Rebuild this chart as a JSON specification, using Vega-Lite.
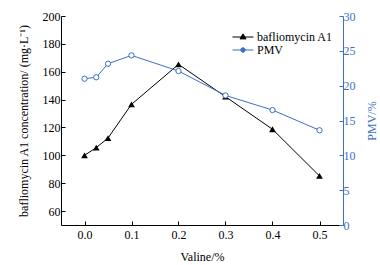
{
  "$schema": "https://vega.github.io/schema/vega-lite/v6.json",
  "width": 282,
  "height": 209,
  "autosize": {"type": "none"},
  "padding": {"left": 61, "top": 16, "right": 37, "bottom": 40},
  "background": "white",
  "config": {
    "font": "Liberation Serif",
    "view": {"stroke": null},
    "axis": {"grid": false, "labelFont": "Liberation Serif", "titleFont": "Liberation Serif", "labelFontSize": 12, "titleFontSize": 12, "titleFontWeight": "normal", "labelColor": "#000", "titleColor": "#000", "domainColor": "#000", "tickColor": "#000", "tickSize": -4}
  },
  "data": {
    "values": [
      {"valine": 0.0, "value": 100.0, "series": "bafliomycin A1"},
      {"valine": 0.025, "value": 105.5, "series": "bafliomycin A1"},
      {"valine": 0.05, "value": 112.4, "series": "bafliomycin A1"},
      {"valine": 0.1, "value": 136.6, "series": "bafliomycin A1"},
      {"valine": 0.2, "value": 165.3, "series": "bafliomycin A1"},
      {"valine": 0.3, "value": 142.1, "series": "bafliomycin A1"},
      {"valine": 0.4, "value": 118.7, "series": "bafliomycin A1"},
      {"valine": 0.5, "value": 85.2, "series": "bafliomycin A1"},
      {"valine": 0.0, "value": 21.0, "series": "PMV"},
      {"valine": 0.025, "value": 21.2, "series": "PMV"},
      {"valine": 0.05, "value": 23.15, "series": "PMV"},
      {"valine": 0.1, "value": 24.35, "series": "PMV"},
      {"valine": 0.2, "value": 22.1, "series": "PMV"},
      {"valine": 0.3, "value": 18.6, "series": "PMV"},
      {"valine": 0.4, "value": 16.5, "series": "PMV"},
      {"valine": 0.5, "value": 13.6, "series": "PMV"}
    ]
  },
  "encoding": {
    "x": {
      "field": "valine", "type": "quantitative",
      "scale": {"domain": [-0.05, 0.55], "nice": false, "zero": false},
      "axis": {"title": "Valine/%", "values": [0, 0.1, 0.2, 0.3, 0.4, 0.5], "format": ".1f", "labelPadding": 8, "titlePadding": 11}
    },
    "color": {
      "field": "series", "type": "nominal",
      "scale": {"domain": ["bafliomycin A1", "PMV"], "range": ["#000000", "#3d6fc4"]},
      "legend": {
        "title": null, "orient": "none", "legendX": 176, "legendY": 15,
        "labelFont": "Liberation Serif", "labelFontSize": 12, "labelColor": "#000",
        "rowPadding": 1, "symbolSize": 100, "labelOffset": 8,
        "symbolStrokeWidth": 1,
        "encode": {
          "symbols": {
            "update": {
              "shape": {"signal": "datum.value === 'PMV' ? 'M-2.1,0H-0.45M0.45,0H2.1M0.45,0A0.45,0.45,0,1,1,-0.45,0A0.45,0.45,0,1,1,0.45,0Z' : 'M-2.1,0H2.1M0,-0.62L0.6,0.38L-0.6,0.38Z'"},
              "fill": {"signal": "datum.value === 'PMV' ? '#ffffff' : '#000000'"},
              "stroke": {"signal": "datum.value === 'PMV' ? '#3d6fc4' : '#000000'"},
              "fillOpacity": {"value": 1},
              "opacity": {"value": 1}
            }
          }
        }
      }
    }
  },
  "layer": [
    {
      "transform": [{"filter": "datum.series === 'bafliomycin A1'"}],
      "encoding": {
        "y": {
          "field": "value", "type": "quantitative",
          "scale": {"domain": [50, 200], "nice": false, "zero": false},
          "axis": {"title": "bafliomycin A1 concentration/ (mg·L⁻¹)", "values": [60, 80, 100, 120, 140, 160, 180, 200], "labelPadding": 5, "titlePadding": 12}
        }
      },
      "layer": [
        {"mark": {"type": "line", "strokeWidth": 1}},
        {"mark": {"type": "point", "shape": "triangle-up", "filled": true, "size": 45, "opacity": 1}}
      ]
    },
    {
      "transform": [{"filter": "datum.series === 'PMV'"}],
      "encoding": {
        "y": {
          "field": "value", "type": "quantitative",
          "scale": {"domain": [0, 30], "nice": false, "zero": false},
          "axis": {"orient": "right", "title": "PMV/%", "titleAngle": 270, "values": [0, 5, 10, 15, 20, 25, 30], "labelPadding": 4, "titlePadding": 23, "domainColor": "#3d6fc4", "tickColor": "#3d6fc4", "labelColor": "#3d6fc4", "titleColor": "#3d6fc4"}
        }
      },
      "layer": [
        {"mark": {"type": "line", "strokeWidth": 1}},
        {"mark": {"type": "point", "shape": "circle", "filled": false, "fill": "white", "fillOpacity": 1, "strokeWidth": 1, "size": 28, "opacity": 1}}
      ]
    }
  ],
  "resolve": {"scale": {"y": "independent"}}
}
